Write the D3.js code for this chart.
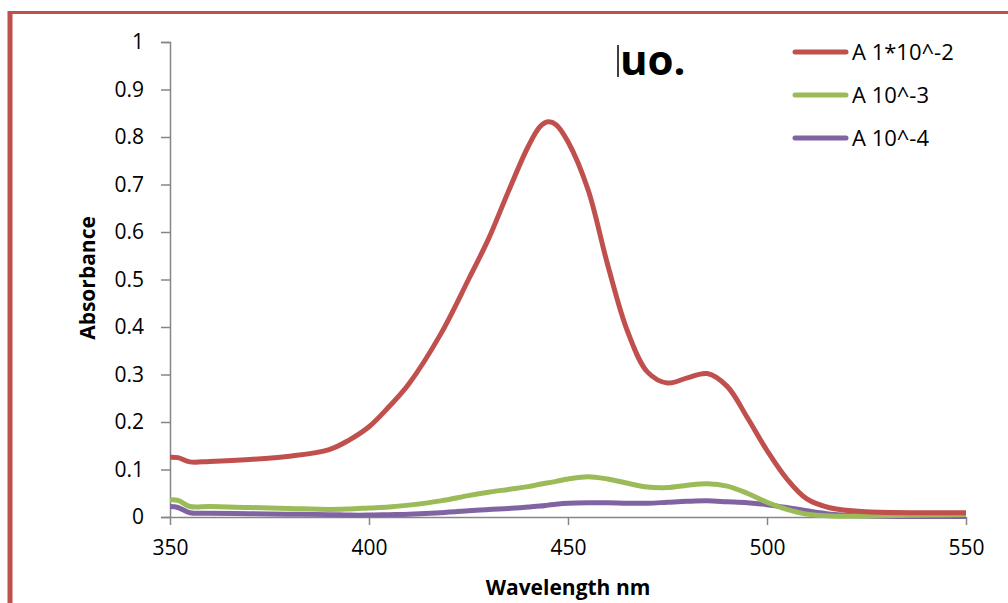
<!DOCTYPE html>
<html>
<head>
<meta charset="utf-8">
<script src="https://cdn.jsdelivr.net/npm/d3@7"></script>
<style>
  body { margin: 0; background: #fff; }
  svg { display: block; }
</style>
</head>
<body>
<svg id="chart" width="1008" height="603"></svg>
<script>
// wavelengths (nm) shared by all series
var wavelengths = [350, 352, 355, 360, 370, 380, 390, 395, 400, 405, 410, 418, 425, 430, 435, 440, 443, 445, 447, 450,
  455, 460, 465, 470, 475, 480, 485, 490, 495, 500, 505, 510, 516, 525, 540, 550];
var seriesA2 = [0.126, 0.125, 0.116, 0.117, 0.121, 0.128, 0.142, 0.162, 0.190, 0.232, 0.280, 0.385, 0.500, 0.585, 0.685, 0.780, 0.822, 0.832, 0.826, 0.790,
  0.690, 0.530, 0.390, 0.305, 0.282, 0.293, 0.302, 0.275, 0.210, 0.140, 0.080, 0.038, 0.019, 0.011, 0.009, 0.009];
var seriesA3 = [0.036, 0.035, 0.022, 0.022, 0.020, 0.018, 0.016, 0.017, 0.019, 0.021, 0.025, 0.034, 0.045, 0.052, 0.058, 0.064, 0.069, 0.072, 0.075, 0.080,
  0.085, 0.080, 0.071, 0.063, 0.062, 0.067, 0.070, 0.065, 0.050, 0.031, 0.016, 0.006, 0.002, 0.002, 0.004, 0.005];
var seriesA4 = [0.022, 0.020, 0.009, 0.008, 0.007, 0.006, 0.005, 0.004, 0.004, 0.005, 0.006, 0.009, 0.013, 0.016, 0.018, 0.021, 0.023, 0.025, 0.027, 0.029,
  0.030, 0.030, 0.029, 0.029, 0.031, 0.033, 0.034, 0.032, 0.030, 0.026, 0.020, 0.013, 0.006, 0.002, 0.001, 0.001];
var seriesNames = ["A 1*10^-2", "A 10^-3", "A 10^-4"];
var colors = ["#c0504d", "#9bbb59", "#8064a2"];
var xTicks = [350, 400, 450, 500, 550];
var yTicks = [0, 0.1, 0.2, 0.3, 0.4, 0.5, 0.6, 0.7, 0.8, 0.9, 1];

var svg = d3.select("#chart");
var font = "'Open Sans', sans-serif";

// outer frame (only top and left edges are visible)
svg.append("line").attr("x1", 10).attr("x2", 1008).attr("y1", 12.5).attr("y2", 12.5)
  .attr("stroke", "#c0504d").attr("stroke-width", 3);
svg.append("line").attr("x1", 10).attr("x2", 10).attr("y1", 11).attr("y2", 603)
  .attr("stroke", "#c0504d").attr("stroke-width", 5);

var x = d3.scaleLinear().domain([350, 550]).range([170, 966]);
var y = d3.scaleLinear().domain([0, 1]).range([517, 42]);

// y axis
var yAxis = svg.append("g").attr("transform", "translate(170,0)")
  .call(d3.axisLeft(y).tickValues(yTicks).tickSize(9).tickPadding(17)
    .tickFormat(function (d) { return d === 0 || d === 1 ? d : d3.format(".1f")(d); }));
yAxis.select(".domain").attr("stroke", "#868686").attr("stroke-width", 1.5);
yAxis.selectAll(".tick line").attr("stroke", "#868686").attr("stroke-width", 1.5);
yAxis.selectAll("text").attr("font-family", font).attr("font-size", 21).attr("fill", "#000");

// x axis
var xAxis = svg.append("g").attr("transform", "translate(0,517)")
  .call(d3.axisBottom(x).tickValues(xTicks).tickSize(8).tickSizeOuter(0).tickPadding(15));
xAxis.select(".domain").attr("stroke", "#868686").attr("stroke-width", 1.5);
xAxis.selectAll(".tick line").attr("stroke", "#868686").attr("stroke-width", 1.5);
xAxis.selectAll("text").attr("font-family", font).attr("font-size", 21).attr("fill", "#000");

// curves
var allSeries = [seriesA2, seriesA3, seriesA4];
var line = d3.line()
  .x(function (d, i) { return x(wavelengths[i]); })
  .y(function (d) { return y(d); })
  .curve(d3.curveCatmullRom.alpha(0.5));

svg.selectAll("path.series")
  .data(allSeries.slice().reverse())
  .enter()
  .append("path")
  .attr("class", "series")
  .attr("d", line)
  .attr("fill", "none")
  .attr("stroke", function (d, i) { return colors[2 - i]; })
  .attr("stroke-width", 5)
  .attr("stroke-linejoin", "round");

// axis titles
svg.append("text")
  .attr("x", 568).attr("y", 595)
  .attr("text-anchor", "middle")
  .attr("font-family", font).attr("font-weight", "bold").attr("font-size", 21)
  .text("Wavelength nm");
svg.append("text")
  .attr("transform", "translate(95,278) rotate(-90)")
  .attr("text-anchor", "middle")
  .attr("font-family", font).attr("font-weight", "bold").attr("font-size", 21)
  .text("Absorbance");

// clipped chart title
svg.append("line").attr("x1", 618).attr("x2", 618).attr("y1", 45).attr("y2", 77)
  .attr("stroke", "#000").attr("stroke-width", 1.5);
svg.append("text")
  .attr("x", 620).attr("y", 75)
  .attr("font-family", font).attr("font-weight", "bold").attr("font-size", 42)
  .text("uo.");

// legend
var legend = svg.selectAll("g.legend")
  .data(seriesNames)
  .enter()
  .append("g")
  .attr("class", "legend")
  .attr("transform", function (d, i) { return "translate(0," + (52 + i * 43) + ")"; });
legend.append("line")
  .attr("x1", 795).attr("x2", 846)
  .attr("stroke", function (d, i) { return colors[i]; })
  .attr("stroke-width", 5)
  .attr("stroke-linecap", "round");
legend.append("text")
  .attr("x", 852).attr("y", 0)
  .attr("dy", "0.35em")
  .attr("font-family", font).attr("font-size", 22)
  .text(function (d) { return d; });
</script>
</body>
</html>
